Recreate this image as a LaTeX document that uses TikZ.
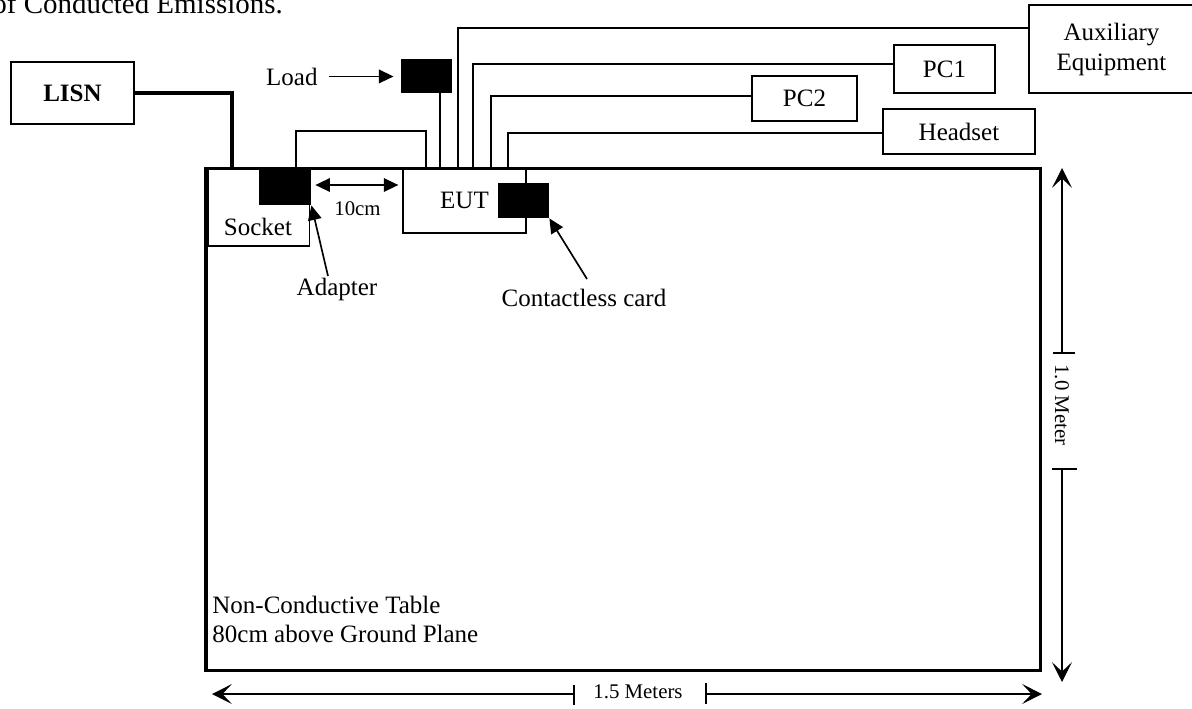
\documentclass[tikz,border=0pt]{standalone}
\usepackage{fontspec}
\setmainfont{Liberation Serif}
\usetikzlibrary{arrows.meta}
\begin{document}
\begin{tikzpicture}[x=0.48pt,y=-0.48pt,
  box/.style={draw,line width=0.7pt,inner sep=0pt},
  blk/.style={fill=black,draw=none,inner sep=0pt},
  wire/.style={line width=0.65pt},
  thickwire/.style={line width=1.45pt},
  lbl/.style={inner sep=0pt,font=\fontsize{12}{14.4}\selectfont},
  sml/.style={inner sep=0pt,font=\fontsize{10}{12}\selectfont},
  arr/.style={line width=0.8pt,-{Triangle[length=7pt,width=6.5pt]}},
  arrboth/.style={line width=0.8pt,{Triangle[length=7pt,width=6.5pt]}-{Triangle[length=7pt,width=6.5pt]}},
  dimline/.style={line width=0.75pt},
  dimtip/.style={-{Stealth[length=9.5pt,width=9.5pt,inset=4.5pt]}},
]
\useasboundingbox (0,0) rectangle (1192,708);
\clip (0,0) rectangle (1192,708);
\fill[white] (0,0) rectangle (1192,708);

% title (cut off at top)
\node[inner sep=0pt,anchor=base west,font=\fontsize{13.9}{16}\selectfont] (title) at (-8,13) {of Conducted Emissions.};

% boxes on the table
\node[box,line width=0.65pt,minimum width=48.72pt,minimum height=37.2pt] (socket) at (258.75,207.25) {};
\node[lbl,anchor=base] (sockettxt) at (258,235) {Socket};
\node[box,lbl,line width=0.65pt,minimum width=59.04pt,minimum height=30.96pt] (eut) at (464.5,200.75) {EUT};
\node[blk,minimum width=24.96pt,minimum height=17.76pt] (adp) at (285,186.5) {};
\node[blk,minimum width=24.48pt,minimum height=16.8pt] (card) at (523.5,200.5) {};

% table
\node[draw,line width=1.45pt,minimum width=400.56pt,minimum height=240.72pt,inner sep=0pt] (table) at (623.25,419.25) {};
\node[lbl,align=left,anchor=north west,font=\fontsize{12}{13.9}\selectfont] (tabtxt) at (212,596) {Non-Conductive Table\\80cm above Ground Plane};

% outside equipment
\node[box,lbl,minimum width=59.04pt,minimum height=29.76pt,font=\fontsize{12}{14.4}\selectfont\bfseries] (lisn) at (72.5,93) {LISN};
\node[blk,minimum width=24.48pt,minimum height=16.32pt] (load) at (426.5,76) {};
\node[lbl,anchor=base east] (loadtxt) at (318,85) {Load};
\node[box,lbl,minimum width=48.48pt,minimum height=23.04pt] (pc1) at (944.5,69) {PC1};
\node[box,lbl,minimum width=50.4pt,minimum height=21.6pt] (pc2) at (804.5,98.5) {PC2};
\node[box,lbl,minimum width=72.96pt,minimum height=21.6pt] (hs) at (959,131.5) {Headset};
\node[box,lbl,align=center,minimum width=79.2pt,minimum height=42.24pt] (aux) at (1111.5,49) {Auxiliary\\Equipment};

% connection points
\coordinate (tL) at (232,168.5);
\coordinate (aS) at (296,168.5);
\coordinate (aTop) at (296,131);
\coordinate (aE) at (426,168.5);
\coordinate (eL) at (440,168.5);
\coordinate (eA) at (458,168.5);
\coordinate (eP1) at (473,168.5);
\coordinate (eP2) at (491,168.5);
\coordinate (eH) at (508,168.5);
\coordinate (yA) at (0,28);
\coordinate (yP1) at (0,64);
\coordinate (yP2) at (0,96);
\coordinate (yH) at (0,133);

% cables
\draw[thickwire] (lisn.east) -| (tL);
\draw[wire] (aS) -- (aTop) -| (aE);
\draw[wire] (load.south -| eL) -- (eL);
\draw[wire] (eA) |- (aux.west |- yA);
\draw[wire] (eP1) |- (pc1.west |- yP1);
\draw[wire] (eP2) |- (pc2.west |- yP2);
\draw[wire] (eH) |- (hs.west |- yH);

% pointers
\draw[arr,shorten <=5.3pt,shorten >=3.4pt] (loadtxt.east) -- (loadtxt.east -| load.west);
\coordinate (d10) at (0,185);
\draw[arrboth,shorten <=1.9pt,shorten >=1.9pt] (adp.east |- d10) -- (eut.west |- d10);
\node[sml,anchor=base] (tencm) at (357.5,215) {10cm};
\node[lbl,anchor=base] (adptxt) at (337,295) {Adapter};
\coordinate (adT) at (328,276);
\draw[arr] (adT) -- (adp.south east);
\node[lbl,anchor=base] (cardtxt) at (584,306) {Contactless card};
\coordinate (cT) at (587,279);
\draw[arr] (cT) -- (card.south east);

% vertical dimension
\coordinate (vTop) at (1062,168);
\coordinate (vT1) at (1062,353);
\coordinate (vT2) at (1062,469);
\coordinate (vBot) at (1062,682);
\draw[dimline,dimtip] (vT1) -- (vTop);
\draw[dimline] (1053,353) -- (1075,353);
\node[sml,rotate=-90] (vlab) at (1062,405) {1.0 Meter};
\draw[dimline] (1052,469) -- (1077,469);
\draw[dimline,dimtip] (vT2) -- (vBot);

% horizontal dimension
\coordinate (hL) at (212,694);
\coordinate (hT1) at (574,694);
\coordinate (hT2) at (706,694);
\coordinate (hR) at (1042,694);
\draw[dimline,dimtip] (hT1) -- (hL);
\draw[dimline] (574,685) -- (574,705);
\node[sml] (hlab) at (638,692) {1.5 Meters};
\draw[dimline] (706,683) -- (706,704);
\draw[dimline,dimtip] (hT2) -- (hR);
\end{tikzpicture}
\end{document}
